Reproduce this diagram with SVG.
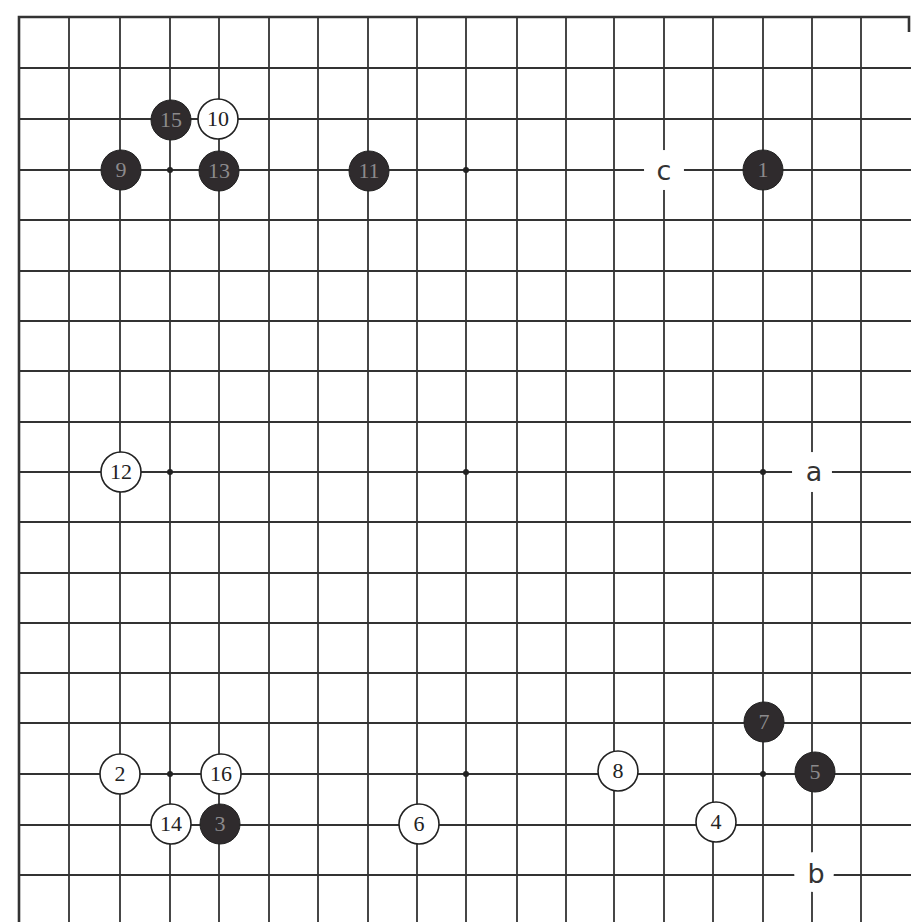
<svg xmlns="http://www.w3.org/2000/svg" width="911" height="922" viewBox="0 0 911 922">
<style>
.g{stroke:#333;stroke-width:1.8;fill:none}
.e{stroke:#333;stroke-width:2.6;fill:none}
.hoshi{fill:#222}
.b circle{fill:#2f2b2d;stroke:#222;stroke-width:1}
.w circle{fill:#fff;stroke:#222;stroke-width:1.6}
.b text{fill:#8c8a8c}
.w text{fill:#222}
text.n{font-family:"Liberation Serif",serif;font-size:22px;text-anchor:middle}
.l circle{fill:#fff;stroke:none}
.l text{font-family:"DejaVu Sans","Liberation Sans",sans-serif;font-size:27px;fill:#333;text-anchor:middle}
</style>
<rect width="911" height="922" fill="#fff"/>
<g id="grid">
<path class="g" d="M69 17V922M120 17V922M170 17V922M219 17V922M269 17V922M318 17V922M368 17V922M417 17V922M466 17V922M517 17V922M566 17V922M614 17V922M664 17V922M713 17V922M763 17V922M812 17V922M861 17V922"/>
<path class="g" d="M19 68H911M19 119H911M19 170H911M19 220H911M19 271H911M19 321H911M19 371H911M19 422H911M19 472H911M19 522H911M19 573H911M19 623H911M19 673H911M19 723H911M19 774H911M19 825H911M19 875H911"/>
<path class="e" d="M19 922V17H909V32"/>
<g class="hoshi">
<circle cx="170" cy="170" r="3"/><circle cx="466" cy="170" r="3"/>
<circle cx="170" cy="472" r="3"/><circle cx="466" cy="472" r="3"/><circle cx="763" cy="472" r="3"/>
<circle cx="170" cy="774" r="3"/><circle cx="466" cy="774" r="3"/><circle cx="763" cy="774" r="3"/>
</g>
</g>
<g id="labels" class="l">
<g id="label-c"><circle cx="664" cy="170" r="20"/><text x="664" y="180">c</text></g>
<g id="label-a"><circle cx="812" cy="472" r="20"/><text x="814" y="481">a</text></g>
<g id="label-b"><circle cx="814" cy="872" r="20"/><text x="816" y="883">b</text></g>
</g>
<g id="stone-1" class="b"><circle cx="763" cy="170" r="20"/><text class="n" x="763" y="177">1</text></g>
<g id="stone-2" class="w"><circle cx="120" cy="774" r="20"/><text class="n" x="120" y="781">2</text></g>
<g id="stone-3" class="b"><circle cx="220" cy="824" r="20"/><text class="n" x="220" y="831">3</text></g>
<g id="stone-4" class="w"><circle cx="716" cy="822" r="20"/><text class="n" x="716" y="829">4</text></g>
<g id="stone-5" class="b"><circle cx="815" cy="772" r="20"/><text class="n" x="815" y="779">5</text></g>
<g id="stone-6" class="w"><circle cx="419" cy="824" r="20"/><text class="n" x="419" y="831">6</text></g>
<g id="stone-7" class="b"><circle cx="764" cy="722" r="20"/><text class="n" x="764" y="729">7</text></g>
<g id="stone-8" class="w"><circle cx="618" cy="771" r="20"/><text class="n" x="618" y="778">8</text></g>
<g id="stone-9" class="b"><circle cx="121" cy="170" r="20"/><text class="n" x="121" y="177">9</text></g>
<g id="stone-10" class="w"><circle cx="218" cy="119" r="20"/><text class="n" x="218" y="126">10</text></g>
<g id="stone-11" class="b"><circle cx="369" cy="171" r="20"/><text class="n" x="369" y="178">11</text></g>
<g id="stone-12" class="w"><circle cx="121" cy="472" r="20"/><text class="n" x="121" y="479">12</text></g>
<g id="stone-13" class="b"><circle cx="219" cy="171" r="20"/><text class="n" x="219" y="178">13</text></g>
<g id="stone-14" class="w"><circle cx="171" cy="824" r="20"/><text class="n" x="171" y="831">14</text></g>
<g id="stone-15" class="b"><circle cx="171" cy="120" r="20"/><text class="n" x="171" y="127">15</text></g>
<g id="stone-16" class="w"><circle cx="221" cy="774" r="20"/><text class="n" x="221" y="781">16</text></g>
</svg>
